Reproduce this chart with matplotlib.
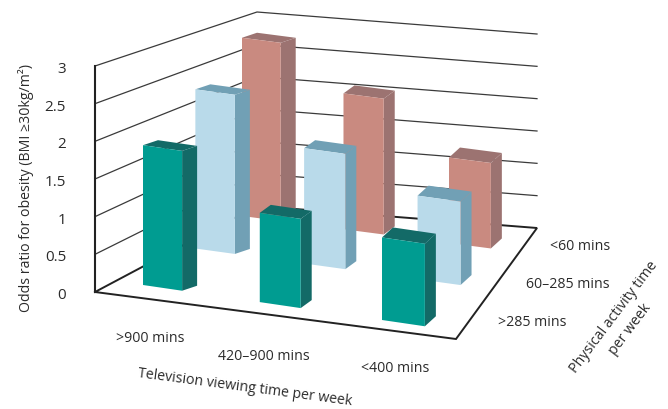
import numpy as np
import matplotlib
matplotlib.use("Agg")
import matplotlib.pyplot as plt
from matplotlib.patches import Polygon

plt.rcParams['font.family'] = ['Open Sans', 'DejaVu Sans']

# ---- data ----
tv_labels = [">900 mins", "420–900 mins", "<400 mins"]
activity_labels = [">285 mins", "60–285 mins", "<60 mins"]
z_ticks = [0, 0.5, 1, 1.5, 2, 2.5, 3]
z_tick_labels = ["0", "0.5", "1", "1.5", "2", "2.5", "3"]
odds_high_activity = [1.88, 1.20, 1.11]
odds_mid_activity = [2.25, 1.63, 1.18]
odds_low_activity = [2.69, 2.05, 1.29]

# ---- style ----
INK = "#2b2b2b"
LINE = "#3a3a3a"
row_styles = [("#009C91", "#136A67", "#136A67"),
              ("#B9DAEA", "#71A0B5", "#71A0B5"),
              ("#C98A80", "#9C7371", "#9C7371")]


def homography(quad):
    """Map the unit square (u, v) to a pixel quad (u0v0, u1v0, u1v1, u0v1)."""
    src = [(0, 0), (1, 0), (1, 1), (0, 1)]
    A, b = [], []
    for (u, v), (x, y) in zip(src, quad):
        A.append([u, v, 1, 0, 0, 0, -u * x, -v * x]); b.append(x)
        A.append([0, 0, 0, u, v, 1, -u * y, -v * y]); b.append(y)
    m = np.append(np.linalg.solve(np.array(A, float), np.array(b, float)), 1).reshape(3, 3)

    def f(u, v):
        p = m @ np.array([u, v, 1.0])
        return p[:2] / p[2]
    return f


# the floor of the chart, and the grid the bars stand on
floor = homography([(95, 292), (456, 339), (537, 228), (257, 206)])
bar_grid = homography([(143, 285), (382, 320), (449, 243), (242, 216)])
UNIT_FRONT = 226 / 3   # px per unit on the front wall
UNIT_BACK = 194 / 3    # px per unit on the back wall
row_bar_w = [0.170, 0.184, 0.193]
side_dx = [15, 11, 11]
side_dy = [-5, -8, -10]
row_depth = [0.09, 0.43, 0.85]
row_pos = [0, 0.49, 1]


def unit(v):
    return UNIT_FRONT + (UNIT_BACK - UNIT_FRONT) * v


def wall(u, v, z):
    x, y = floor(u, v)
    return x, y - z * unit(v)


fig = plt.figure(figsize=(6.68, 4.09), dpi=100)
ax = fig.add_axes([0, 0, 1, 1])
ax.set_xlim(0, 668)
ax.set_ylim(409, 0)
ax.axis("off")

# walls
for z in z_ticks[1:]:
    pts = [wall(0, 0, z), wall(0, 1, z), wall(1, 1, z)]
    ax.plot(*zip(*pts), color=LINE, lw=0.9, zorder=1, solid_joinstyle="miter")
ax.plot(*zip(wall(0, 0, 0), wall(0, 0, 3)), color="#222222", lw=1.5, zorder=1)
ax.plot(*zip(wall(0, 0, 0), wall(0, 1, 0), wall(1, 1, 0), wall(1, 0, 0), wall(0, 0, 0)),
        color="#222222", lw=1.4, zorder=1, solid_joinstyle="miter")

# bars, back row first
rows = [odds_high_activity, odds_mid_activity, odds_low_activity]
order = 10
for j in [2, 1, 0]:
    front, side, top = row_styles[j]
    for i, val in enumerate(rows[j]):
        u0 = i / 2
        v0 = row_pos[j]
        x0, y0 = bar_grid(u0, v0)
        x1, y1 = bar_grid(u0 + row_bar_w[j], v0)
        h = val * unit(row_depth[j])
        dx, dy = side_dx[i], side_dy[i]
        face = [(x0, y0), (x1, y1), (x1, y1 - h), (x0, y0 - h)]
        right = [(x1, y1), (x1 + dx, y1 + dy), (x1 + dx, y1 + dy - h), (x1, y1 - h)]
        roof = [(x0, y0 - h), (x1, y1 - h), (x1 + dx, y1 + dy - h), (x0 + dx, y0 + dy - h)]
        ax.add_patch(Polygon(right, closed=True, fc=side, ec="none", zorder=order))
        ax.add_patch(Polygon(roof, closed=True, fc=top, ec="none", zorder=order))
        ax.add_patch(Polygon(face, closed=True, fc=front, ec="none", zorder=order + 0.5))
        order += 1

# text
FS = 10.2
for z, lab in zip(z_ticks, z_tick_labels):
    ax.text(66, wall(0, 0, z)[1] + 3.5, lab, ha="right", va="center", fontsize=11, color=INK)
ax.text(26, 188, "Odds ratio for obesity (BMI ≥30kg/m²)", rotation=90, ha="center",
        va="center", fontsize=FS, color=INK)
for lab, xy in zip(tv_labels, [(150, 338), (264, 356), (395, 369)]):
    ax.text(*xy, lab, ha="center", va="center", fontsize=FS, color=INK)
for lab, xy in zip(activity_labels, [(567, 322), (610, 284), (610, 247)]):
    ax.text(*xy, lab, ha="right", va="center", fontsize=FS, color=INK)
ax.text(245, 388, "Television viewing time per week", rotation=-7.5, rotation_mode="anchor",
        ha="center", va="center", fontsize=FS, color=INK)
ax.text(614, 317, "Physical activity time", rotation=53, rotation_mode="anchor",
        ha="center", va="center", fontsize=FS, color=INK)
ax.text(630, 329, "per week", rotation=53, rotation_mode="anchor",
        ha="center", va="center", fontsize=FS, color=INK)

fig.savefig("out.png", dpi=100)
